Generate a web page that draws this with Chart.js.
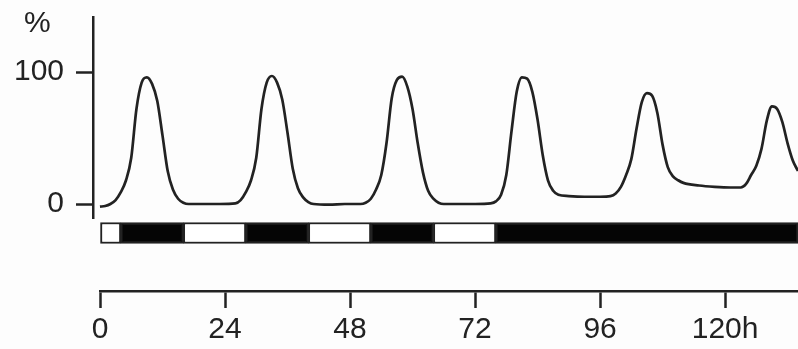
<!DOCTYPE html>
<html lang="en">
<head>
    <meta charset="UTF-8">
    <title>Rhythm over 5 days</title>
    <script src="https://cdn.jsdelivr.net/npm/chart.js"></script>
    <style>
        body {
            margin: 0;
            background: #fdfdfd;
            font-family: 'Liberation Sans', Arial, sans-serif;
        }
        .wrap {
            position: relative;
            width: 798px;
            height: 349px;
            overflow: hidden;
        }
        #curve { position: absolute; left: 0; top: 0; }
        #strip { position: absolute; left: 0; top: 215px; }
        .unit {
            position: absolute;
            left: 24px;
            top: 7px;
            font-size: 30px;
            line-height: 30px;
            color: #222;
        }
    </style>
</head>
<body>
<div class="wrap">
    <canvas id="curve" width="798" height="222"></canvas>
    <canvas id="strip" width="798" height="134"></canvas>
    <div class="unit">%</div>
</div>

<script>
    // time in hours, value in %
    const hours = [
        0, 1, 2, 3, 4, 5, 6, 7, 8, 9, 10, 11, 12, 13, 14, 15, 16, 17, 20, 23,
        26, 27, 28, 29, 30, 31, 32, 33, 34, 35, 36, 37, 38, 39, 40, 41, 44, 47,
        50, 51, 52, 53, 54, 55, 56, 57, 58, 59, 60, 61, 62, 63, 64, 65, 66, 69, 72,
        75, 76, 77, 78, 79, 80, 81, 82, 83, 84, 85, 86, 87, 88, 90, 93, 96,
        98, 99, 100, 101, 102, 103, 104, 105, 106, 107, 108, 109, 110, 111, 112, 115, 118, 121,
        123, 124, 125, 126, 127, 128, 129, 130, 131, 132, 133, 134
    ];
    const percent = [
        -2, -1.5, 0, 3, 9, 18, 35, 72, 92, 96, 91, 78, 52, 25, 11, 4, 1, 0, 0, 0,
        0.5, 3, 9, 18, 35, 72, 92, 97, 92, 79, 54, 27, 12, 5, 1.5, 0, -0.5, 0,
        0, 1, 4, 11, 22, 46, 80, 94, 96.5, 89, 72, 46, 24, 10, 4, 1, 0, 0, 0,
        0.5, 2, 7, 22, 55, 85, 96, 95, 85, 64, 37, 18, 10, 7, 6, 5.5, 5.5,
        6, 8, 13, 22, 34, 57, 77, 84, 82, 69, 45, 28, 21, 18, 16, 14, 13, 12.5,
        12.5, 15, 22, 29, 42, 63, 74, 72, 62, 46, 33, 25
    ];

    const yTicks = [0, 100];
    const xTicks = [0, 24, 48, 72, 96, 120];
    const xTickLabels = ['0', '24', '48', '72', '96', '120h'];

    // light / dark schedule
    const phaseEdges = [0, 4, 16, 28, 40, 52, 64, 76, 134];
    const phases = ['light', 'dark', 'light', 'dark', 'light', 'dark', 'light', 'dark'];

    const ink = '#222';
    const font = { family: "'Liberation Sans', Arial, sans-serif", size: 30 };
    const BAR_LEVEL = 0.763;

    // no extra room for half labels at the ends of an axis
    function noPad(s) {
        s.paddingTop = 0;
        s.paddingBottom = 0;
        s.paddingLeft = 0;
        s.paddingRight = 0;
    }

    new Chart(document.getElementById('curve'), {
        type: 'line',
        data: {
            datasets: [{
                data: hours.map((h, i) => ({ x: h, y: percent[i] })),
                borderColor: ink,
                borderWidth: 2.7,
                pointRadius: 0,
                cubicInterpolationMode: 'monotone',
                fill: false
            }]
        },
        options: {
            responsive: false,
            animation: false,
            layout: { padding: { top: 17, bottom: 4, left: 0, right: 0 } },
            plugins: { legend: { display: false }, tooltip: { enabled: false } },
            scales: {
                x: { type: 'linear', display: false, min: -1.34, max: 134 },
                y: {
                    min: -10.6,
                    max: 141.7,
                    afterBuildTicks: s => { s.ticks = yTicks.map(v => ({ value: v })); },
                    afterFit: s => { s.width = 93; noPad(s); },
                    border: { display: true, color: ink, width: 2.5 },
                    grid: { drawOnChartArea: false, drawTicks: true, tickLength: 17, tickWidth: 2.5, tickColor: ink },
                    ticks: { color: ink, font, padding: 12 }
                }
            }
        }
    });

    new Chart(document.getElementById('strip'), {
        type: 'bar',
        data: {
            datasets: [{
                data: phases.map((p, i) => ({ x: [phaseEdges[i], phaseEdges[i + 1]], y: BAR_LEVEL })),
                backgroundColor: phases.map(p => p === 'light' ? '#ffffff' : '#050505'),
                borderColor: ink,
                borderWidth: 2,
                borderSkipped: false,
                barThickness: 21
            }]
        },
        options: {
            indexAxis: 'y',
            responsive: false,
            animation: false,
            layout: { padding: { top: 0, bottom: 0, left: 100, right: 0 } },
            plugins: { legend: { display: false }, tooltip: { enabled: false } },
            scales: {
                y: { type: 'linear', display: false, offset: false, min: 0, max: 1 },
                x: {
                    type: 'linear',
                    min: 0,
                    max: 134,
                    afterBuildTicks: s => { s.ticks = xTicks.map(v => ({ value: v })); },
                    afterFit: s => { s.height = 58; noPad(s); },
                    border: { display: true, color: ink, width: 2.5 },
                    grid: { drawOnChartArea: false, drawTicks: true, tickLength: 17, tickWidth: 2.5, tickColor: ink },
                    ticks: {
                        color: ink,
                        font,
                        padding: 4,
                        maxRotation: 0,
                        autoSkip: false,
                        callback: (v, i) => xTickLabels[i]
                    }
                }
            }
        }
    });
</script>
</body>
</html>
